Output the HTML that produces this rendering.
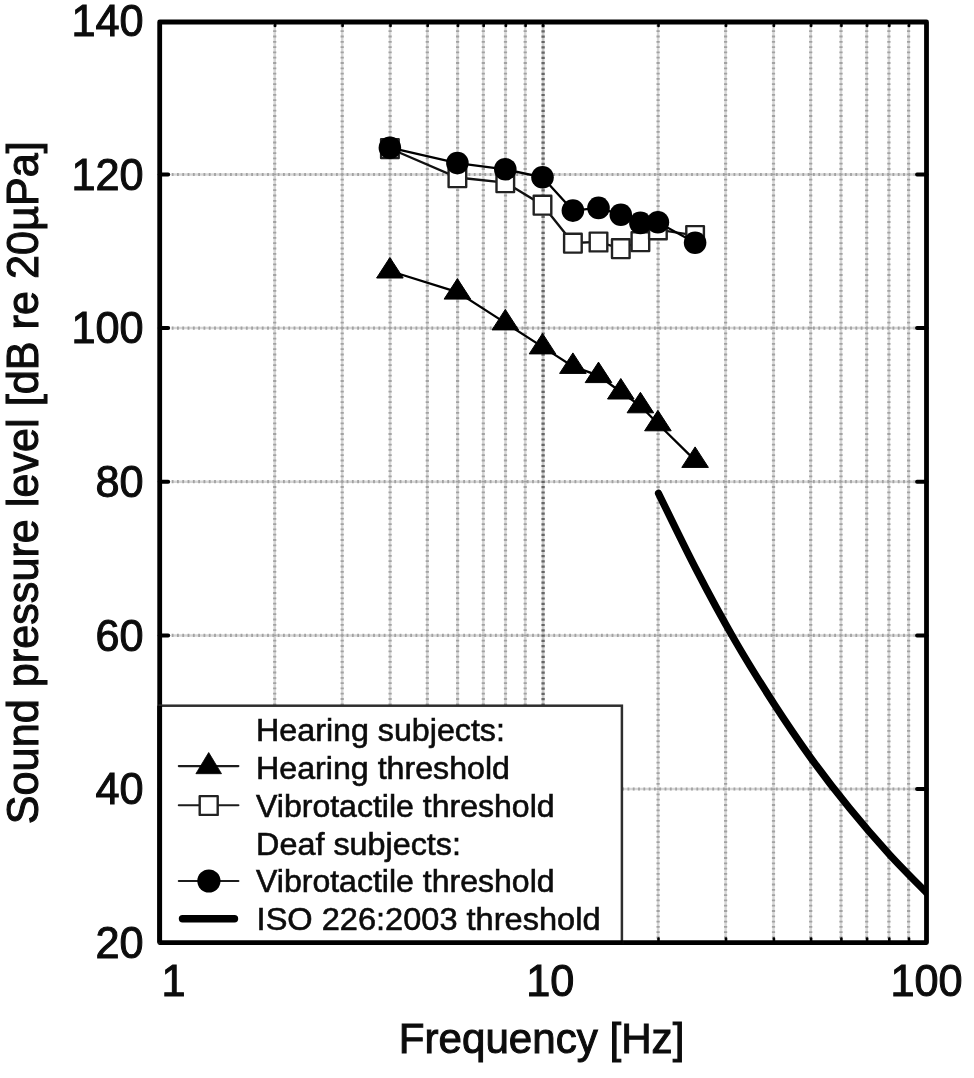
<!DOCTYPE html>
<html lang="en"><head><meta charset="utf-8"><title>Hearing and vibrotactile thresholds</title>
<style>html,body{margin:0;padding:0;background:#fff}svg{display:block;filter:blur(0.5px)}</style></head>
<body>
<svg width="974" height="1078" viewBox="0 0 974 1078">
<rect width="974" height="1078" fill="#fff"/>
<defs><clipPath id="pc"><rect x="159.7" y="22.0" width="768.3" height="920.6"/></clipPath></defs>
<path d="M274.7 25.0V939.6M342.2 25.0V939.6M390.1 25.0V939.6M427.3 25.0V939.6M457.6 25.0V939.6M483.3 25.0V939.6M505.5 25.0V939.6M525.2 25.0V939.6M658.1 25.0V939.6M725.6 25.0V939.6M773.5 25.0V939.6M810.7 25.0V939.6M841.0 25.0V939.6M866.7 25.0V939.6M888.9 25.0V939.6M908.6 25.0V939.6M171.7 789.0H914.5M171.7 635.4H914.5M171.7 481.7H914.5M171.7 328.1H914.5M171.7 174.5H914.5" stroke="#d6d6d6" stroke-width="2.5" fill="none"/>
<path d="M274.7 25.0V939.6M342.2 25.0V939.6M390.1 25.0V939.6M427.3 25.0V939.6M457.6 25.0V939.6M483.3 25.0V939.6M505.5 25.0V939.6M525.2 25.0V939.6M658.1 25.0V939.6M725.6 25.0V939.6M773.5 25.0V939.6M810.7 25.0V939.6M841.0 25.0V939.6M866.7 25.0V939.6M888.9 25.0V939.6M908.6 25.0V939.6M171.7 789.0H914.5M171.7 635.4H914.5M171.7 481.7H914.5M171.7 328.1H914.5M171.7 174.5H914.5" stroke="#a2a2a2" stroke-width="3.2" stroke-dasharray="1.8 3.5" fill="none"/>
<path d="M543.1 25.0V939.6" stroke="#cacaca" stroke-width="2.8" fill="none"/>
<path d="M543.1 25.0V939.6" stroke="#666" stroke-width="3.3" stroke-dasharray="2.2 3.1" fill="none"/>
<g stroke="#000" stroke-width="4" stroke-linecap="round"><line x1="159.7" y1="789.0" x2="168.2" y2="789.0"/><line x1="926.5" y1="789.0" x2="917.0" y2="789.0"/><line x1="159.7" y1="635.4" x2="168.2" y2="635.4"/><line x1="926.5" y1="635.4" x2="917.0" y2="635.4"/><line x1="159.7" y1="481.7" x2="168.2" y2="481.7"/><line x1="926.5" y1="481.7" x2="917.0" y2="481.7"/><line x1="159.7" y1="328.1" x2="168.2" y2="328.1"/><line x1="926.5" y1="328.1" x2="917.0" y2="328.1"/><line x1="159.7" y1="174.5" x2="168.2" y2="174.5"/><line x1="926.5" y1="174.5" x2="917.0" y2="174.5"/></g>
<g stroke="#000" stroke-width="2.6" stroke-linecap="round"><line x1="275.1" y1="22.0" x2="275.1" y2="26.0"/><line x1="275.1" y1="942.6" x2="275.1" y2="938.6"/><line x1="342.6" y1="22.0" x2="342.6" y2="26.0"/><line x1="342.6" y1="942.6" x2="342.6" y2="938.6"/><line x1="390.5" y1="22.0" x2="390.5" y2="26.0"/><line x1="390.5" y1="942.6" x2="390.5" y2="938.6"/><line x1="427.7" y1="22.0" x2="427.7" y2="26.0"/><line x1="427.7" y1="942.6" x2="427.7" y2="938.6"/><line x1="458.0" y1="22.0" x2="458.0" y2="26.0"/><line x1="458.0" y1="942.6" x2="458.0" y2="938.6"/><line x1="483.7" y1="22.0" x2="483.7" y2="26.0"/><line x1="483.7" y1="942.6" x2="483.7" y2="938.6"/><line x1="505.9" y1="22.0" x2="505.9" y2="26.0"/><line x1="505.9" y1="942.6" x2="505.9" y2="938.6"/><line x1="525.6" y1="22.0" x2="525.6" y2="26.0"/><line x1="525.6" y1="942.6" x2="525.6" y2="938.6"/><line x1="543.1" y1="22.0" x2="543.1" y2="26.0"/><line x1="543.1" y1="942.6" x2="543.1" y2="938.6"/><line x1="658.5" y1="22.0" x2="658.5" y2="26.0"/><line x1="658.5" y1="942.6" x2="658.5" y2="938.6"/><line x1="726.0" y1="22.0" x2="726.0" y2="26.0"/><line x1="726.0" y1="942.6" x2="726.0" y2="938.6"/><line x1="773.9" y1="22.0" x2="773.9" y2="26.0"/><line x1="773.9" y1="942.6" x2="773.9" y2="938.6"/><line x1="811.1" y1="22.0" x2="811.1" y2="26.0"/><line x1="811.1" y1="942.6" x2="811.1" y2="938.6"/><line x1="841.4" y1="22.0" x2="841.4" y2="26.0"/><line x1="841.4" y1="942.6" x2="841.4" y2="938.6"/><line x1="867.1" y1="22.0" x2="867.1" y2="26.0"/><line x1="867.1" y1="942.6" x2="867.1" y2="938.6"/><line x1="889.3" y1="22.0" x2="889.3" y2="26.0"/><line x1="889.3" y1="942.6" x2="889.3" y2="938.6"/><line x1="909.0" y1="22.0" x2="909.0" y2="26.0"/><line x1="909.0" y1="942.6" x2="909.0" y2="938.6"/></g>
<path d="M658.5 493.3 C664.7 505.8 683.1 544.2 695.7 568.5 C708.3 592.9 721.1 616.7 734.2 639.2 C747.2 661.7 761.1 683.9 773.9 703.7 C786.8 723.6 798.5 740.8 811.1 758.3 C823.7 775.7 836.5 792.2 849.6 808.2 C862.6 824.2 876.5 840.2 889.3 854.3 C902.2 868.4 920.3 886.3 926.5 892.7" fill="none" stroke="#000" stroke-width="7.2" stroke-linecap="round" clip-path="url(#pc)"/>
<polyline points="389.9,271.0 457.4,292.1 505.3,322.9 542.5,346.9 572.9,366.4 598.5,375.6 620.8,392.0 640.4,405.8 657.9,423.8 695.1,460.4" fill="none" stroke="#000" stroke-width="2.3"/>
<polygon points="389.9,257.5 376.6,278.0 403.2,278.0" fill="#000" stroke="#000" stroke-width="1" stroke-linejoin="round"/>
<polygon points="457.4,278.6 444.1,299.1 470.7,299.1" fill="#000" stroke="#000" stroke-width="1" stroke-linejoin="round"/>
<polygon points="505.3,309.4 492.0,329.9 518.6,329.9" fill="#000" stroke="#000" stroke-width="1" stroke-linejoin="round"/>
<polygon points="542.5,333.4 529.2,353.9 555.8,353.9" fill="#000" stroke="#000" stroke-width="1" stroke-linejoin="round"/>
<polygon points="572.9,352.9 559.6,373.4 586.2,373.4" fill="#000" stroke="#000" stroke-width="1" stroke-linejoin="round"/>
<polygon points="598.5,362.1 585.2,382.6 611.8,382.6" fill="#000" stroke="#000" stroke-width="1" stroke-linejoin="round"/>
<polygon points="620.8,378.5 607.5,399.0 634.1,399.0" fill="#000" stroke="#000" stroke-width="1" stroke-linejoin="round"/>
<polygon points="640.4,392.3 627.1,412.8 653.7,412.8" fill="#000" stroke="#000" stroke-width="1" stroke-linejoin="round"/>
<polygon points="657.9,410.3 644.6,430.8 671.2,430.8" fill="#000" stroke="#000" stroke-width="1" stroke-linejoin="round"/>
<polygon points="695.1,446.9 681.8,467.4 708.4,467.4" fill="#000" stroke="#000" stroke-width="1" stroke-linejoin="round"/>
<polyline points="389.9,148.5 457.4,177.5 505.3,182.5 542.5,205.0 572.9,243.0 598.5,241.8 620.8,248.5 640.4,241.5 657.9,229.7 695.1,235.3" fill="none" stroke="#111" stroke-width="2.3"/>
<rect x="381.1" y="139.3" width="17.6" height="18.8" fill="#fff" stroke="#222" stroke-width="2.4" stroke-linejoin="round"/>
<rect x="448.6" y="168.3" width="17.6" height="18.8" fill="#fff" stroke="#222" stroke-width="2.4" stroke-linejoin="round"/>
<rect x="496.5" y="173.3" width="17.6" height="18.8" fill="#fff" stroke="#222" stroke-width="2.4" stroke-linejoin="round"/>
<rect x="533.7" y="195.8" width="17.6" height="18.8" fill="#fff" stroke="#222" stroke-width="2.4" stroke-linejoin="round"/>
<rect x="564.1" y="233.8" width="17.6" height="18.8" fill="#fff" stroke="#222" stroke-width="2.4" stroke-linejoin="round"/>
<rect x="589.7" y="232.6" width="17.6" height="18.8" fill="#fff" stroke="#222" stroke-width="2.4" stroke-linejoin="round"/>
<rect x="612.0" y="239.3" width="17.6" height="18.8" fill="#fff" stroke="#222" stroke-width="2.4" stroke-linejoin="round"/>
<rect x="631.6" y="232.3" width="17.6" height="18.8" fill="#fff" stroke="#222" stroke-width="2.4" stroke-linejoin="round"/>
<rect x="649.1" y="220.5" width="17.6" height="18.8" fill="#fff" stroke="#222" stroke-width="2.4" stroke-linejoin="round"/>
<rect x="686.3" y="226.1" width="17.6" height="18.8" fill="#fff" stroke="#222" stroke-width="2.4" stroke-linejoin="round"/>
<polyline points="389.9,147.7 457.4,163.1 505.3,169.3 542.5,177.3 572.9,210.6 598.5,207.9 620.8,214.7 640.4,222.9 657.9,222.3 695.1,242.8" fill="none" stroke="#000" stroke-width="2.3"/>
<circle cx="389.9" cy="147.7" r="11.3" fill="#000"/>
<circle cx="457.4" cy="163.1" r="11.3" fill="#000"/>
<circle cx="505.3" cy="169.3" r="11.3" fill="#000"/>
<circle cx="542.5" cy="177.3" r="11.3" fill="#000"/>
<circle cx="572.9" cy="210.6" r="11.3" fill="#000"/>
<circle cx="598.5" cy="207.9" r="11.3" fill="#000"/>
<circle cx="620.8" cy="214.7" r="11.3" fill="#000"/>
<circle cx="640.4" cy="222.9" r="11.3" fill="#000"/>
<circle cx="657.9" cy="222.3" r="11.3" fill="#000"/>
<circle cx="695.1" cy="242.8" r="11.3" fill="#000"/>
<rect x="159.7" y="22.0" width="766.8" height="920.6" fill="none" stroke="#000" stroke-width="4.8" stroke-linejoin="round"/>
<rect x="159.7" y="705.7" width="462.2" height="236.9" fill="#fff" stroke="#2e2e2e" stroke-width="2.5"/>
<line x1="159.7" y1="705.7" x2="159.7" y2="942.6" stroke="#000" stroke-width="4.8"/>
<line x1="159.7" y1="942.6" x2="622.9" y2="942.6" stroke="#000" stroke-width="4.8"/>
<g font-family="'Liberation Sans', Arial, sans-serif" font-size="31.8" fill="#0c0c0c" stroke="#0c0c0c" stroke-width="0.6">
<text transform="translate(256.1 740.9) scale(1.0129 1)">Hearing subjects:</text>
<text transform="translate(256.1 778.6) scale(1.0119 1)">Hearing threshold</text>
<text transform="translate(256.0 816.6) scale(1.008 1)">Vibrotactile threshold</text>
<text transform="translate(256.1 855.1) scale(1.0173 1)">Deaf subjects:</text>
<text transform="translate(256.0 892.3) scale(1.008 1)">Vibrotactile threshold</text>
<text transform="translate(256.6 930.0) scale(1.0243 1)">ISO 226:2003 threshold</text>
</g>
<line x1="178.8" y1="766.1" x2="238.4" y2="766.1" stroke="#1c1c1c" stroke-width="2.1" stroke-linecap="round"/>
<polygon points="208.7,752.5 195.9,773.7 221.5,773.7" fill="#000" stroke="#000" stroke-width="0.8" stroke-linejoin="round"/>
<line x1="178.8" y1="805.3" x2="238.4" y2="805.3" stroke="#1c1c1c" stroke-width="2.1" stroke-linecap="round"/>
<rect x="199.7" y="796.1" width="18" height="18.8" fill="#fff" stroke="#222" stroke-width="2.4" stroke-linejoin="round"/>
<line x1="178.8" y1="881.0" x2="238.4" y2="881.0" stroke="#1c1c1c" stroke-width="2.1" stroke-linecap="round"/>
<circle cx="208.9" cy="881.0" r="11.6" fill="#000"/>
<line x1="182.5" y1="918.8" x2="234.5" y2="918.8" stroke="#000" stroke-width="7.4" stroke-linecap="round"/>
<g font-family="'Liberation Sans', Arial, sans-serif" font-size="42" fill="#0c0c0c" stroke="#0c0c0c" stroke-width="1.0">
<text transform="translate(143.6 957.7) scale(1.03 1.05)" text-anchor="end">20</text>
<text transform="translate(143.6 804.1) scale(1.03 1.05)" text-anchor="end">40</text>
<text transform="translate(143.6 650.5) scale(1.03 1.05)" text-anchor="end">60</text>
<text transform="translate(143.6 496.8) scale(1.03 1.05)" text-anchor="end">80</text>
<text transform="translate(143.6 343.2) scale(1.03 1.05)" text-anchor="end">100</text>
<text transform="translate(143.6 189.6) scale(1.03 1.05)" text-anchor="end">120</text>
<text transform="translate(143.6 36.0) scale(1.03 1.05)" text-anchor="end">140</text>
<text transform="translate(173.6 995.7) scale(1.03 1.05)" text-anchor="middle">1</text>
<text transform="translate(550.2 995.7) scale(1.03 1.05)" text-anchor="middle">10</text>
<text transform="translate(926.5 995.7) scale(1.03 1.05)" text-anchor="middle">100</text>
<text transform="translate(541.6 1053) scale(1.003 1.03)" text-anchor="middle">Frequency [Hz]</text>
<text transform="translate(37.6 482.7) rotate(-90) scale(1.029 1.075)" text-anchor="middle">Sound pressure level [dB re 20µPa]</text>
</g>
</svg>
</body></html>
